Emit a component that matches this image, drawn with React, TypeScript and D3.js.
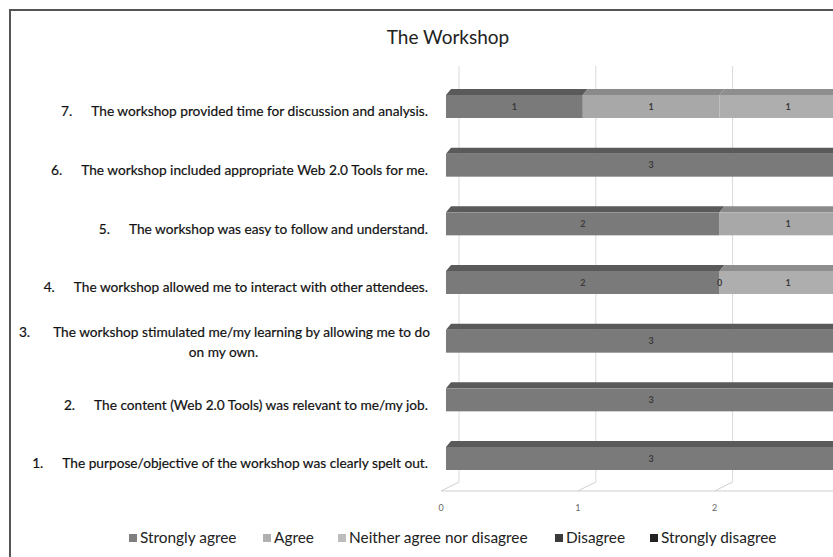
import React from 'react';
import * as d3 from 'd3';

// ---- data ----
const questionNumbers = ['7.', '6.', '5.', '4.', '3.', '2.', '1.'];
const questionTexts = [
  'The workshop provided time for discussion and analysis.',
  'The workshop included appropriate Web 2.0 Tools for me.',
  'The workshop was easy to follow and understand.',
  'The workshop allowed me to interact with other attendees.',
  'The workshop stimulated me/my learning by allowing me to do\non my own.',
  'The content (Web 2.0 Tools) was relevant to me/my job.',
  'The purpose/objective of the workshop was clearly spelt out.',
];
const seriesNames = ['Strongly agree', 'Agree', 'Neither agree nor disagree', 'Disagree', 'Strongly disagree'];
const stronglyAgree: (number | null)[] = [1, 3, 2, 2, 3, 3, 3];
const agree: (number | null)[] = [1, null, 1, 0, null, null, null];
const neither: (number | null)[] = [1, null, null, 1, null, null, null];
const disagree: (number | null)[] = [null, null, null, null, null, null, null];
const stronglyDisagree: (number | null)[] = [null, null, null, null, null, null, null];
const xTicks = [0, 1, 2];
const title = 'The Workshop';

// ---- style ----
const frontColors = ['#7a7a7a', '#a8a8a8', '#aeaeae', '#3a3a3a', '#222222'];
const topColors = ['#5a5a5a', '#8a8a8a', '#8e8e8e', '#262626', '#111111'];
const legendColors = ['#7f7f7f', '#b0b0b0', '#bcbcbc', '#3a3a3a', '#222222'];
const FONT = 'Lato, "Open Sans", sans-serif';

const W = 833;
const H = 557;

export default function App() {
  const series = [stronglyAgree, agree, neither, disagree, stronglyDisagree];

  const yCenter = d3.scalePoint<string>().domain(questionNumbers).range([106.5, 458.5]);
  const unit = 136.8;
  const xFront = d3.scaleLinear().domain([0, 3]).range([441, 441 + 3 * unit]);
  const depthBar = { dx: 5, dy: -6 };
  const barOffset = 5;
  const wall = { dx: 18, dy: -9 };
  const xBar = (v: number) => xFront(v) + barOffset;
  const barH = 23;
  const floorY = 491;
  const wallTop = 66;

  const rows = questionNumbers.map((q, i) => {
    let acc = 0;
    return series.map((s, si) => {
      const v = s[i];
      const start = acc;
      if (v != null) acc += v;
      return { si, v, start, end: acc };
    });
  });

  const measure = (t: string, size: number) => {
    const c = document.createElement('canvas').getContext('2d');
    if (!c) return t.length * size * 0.5;
    c.font = `${size}px Lato`;
    return c.measureText(t).width;
  };

  const labelSize = 13.7;
  const labelRight = 428;
  const base = labelSize * 0.35;
  const gapFor = (lines: string[]) => (lines.length > 1 ? 24 : 20);

  const legendX = [129, 263, 338, 555, 650];

  return (
    <svg width={W} height={H} style={{ position: 'absolute', left: 0, top: 0, background: '#fff' }} fontFamily={FONT}>
      <rect x={0} y={0} width={W} height={H} fill="#fff" />
      <rect x={10} y={10} width={W + 100} height={H + 100} fill="none" stroke="#555" strokeWidth={2} />
      <text x={448} y={37 + 19 * 0.35} textAnchor="middle" fontSize={19} fill="#222">
        {title}
      </text>

      {/* back wall gridlines and floor */}
      {d3.range(0, 4).map((t) => (
        <g key={'g' + t}>
          <line x1={xFront(t) + wall.dx} x2={xFront(t) + wall.dx} y1={wallTop} y2={floorY + wall.dy} stroke="#d9d9d9" strokeWidth={1} />
          <line x1={xFront(t)} x2={xFront(t) + wall.dx} y1={floorY} y2={floorY + wall.dy} stroke="#d0d0d0" strokeWidth={1} />
        </g>
      ))}
      {xTicks.map((t) => (
        <text key={'t' + t} x={xFront(t)} y={508 + 3.2} textAnchor="middle" fontSize={9} fill="#666">
          {t}
        </text>
      ))}
      <line x1={xFront(0)} x2={W + 10} y1={floorY} y2={floorY} stroke="#cfcfcf" strokeWidth={1} />

      {/* bars */}
      {rows.map((segs, i) => {
        const cy = yCenter(questionNumbers[i]) as number;
        const top = cy - barH / 2;
        return (
          <g key={'b' + i}>
            {segs.filter((s) => s.v != null && s.v > 0).map((s) => {
              const x0 = xBar(s.start);
              const x1 = xBar(s.end);
              return (
                <g key={s.si}>
                  <path
                    d={`M${x0},${top}L${x0 + depthBar.dx},${top + depthBar.dy}L${x1 + depthBar.dx},${top + depthBar.dy}L${x1},${top}Z`}
                    fill={topColors[s.si]}
                  />
                  <rect x={x0} y={top} width={x1 - x0} height={barH} fill={frontColors[s.si]} />
                </g>
              );
            })}
            {segs.filter((s) => s.v != null).map((s) => (
              <text
                key={'l' + s.si}
                x={(xBar(s.start) + xBar(s.end)) / 2}
                y={cy + 3.2}
                textAnchor="middle"
                fontSize={9}
                fontWeight={700}
                fill="#3a3a3a"
              >
                {s.v}
              </text>
            ))}
          </g>
        );
      })}

      {/* category labels */}
      {questionNumbers.map((q, i) => {
        const cy = (yCenter(q) as number) + 5;
        const lines = questionTexts[i].split('\n');
        const gap = gapFor(lines);
        if (lines.length === 1) {
          return (
            <text key={'c' + i} x={labelRight} y={cy + base} textAnchor="end" fontSize={labelSize} fill="#111" stroke="#111" strokeWidth={0.2}>
              {q}
              <tspan dx={gap}>{lines[0]}</tspan>
            </text>
          );
        }
        const w1 = measure(q, labelSize) + gap + measure(lines[0], labelSize);
        const right = labelRight + 2;
        const cx = right - w1 / 2;
        const lh = 20;
        const y0 = cy - lh / 2 - 4;
        return (
          <g key={'c' + i}>
            <text x={right} y={y0 + base} textAnchor="end" fontSize={labelSize} fill="#111" stroke="#111" strokeWidth={0.2}>
              {q}
              <tspan dx={gap}>{lines[0]}</tspan>
            </text>
            {lines.slice(1).map((l, li) => (
              <text key={li} x={cx} y={y0 + lh * (li + 1) + base} textAnchor="middle" fontSize={labelSize} fill="#111" stroke="#111" strokeWidth={0.2}>
                {l}
              </text>
            ))}
          </g>
        );
      })}

      {/* legend */}
      {seriesNames.map((n, i) => (
        <g key={'lg' + i}>
          <rect x={legendX[i]} y={534} width={8} height={8} fill={legendColors[i]} />
          <text x={legendX[i] + 11} y={538 + 15.4 * 0.35} fontSize={15.4} fill="#222">
            {n}
          </text>
        </g>
      ))}
    </svg>
  );
}
